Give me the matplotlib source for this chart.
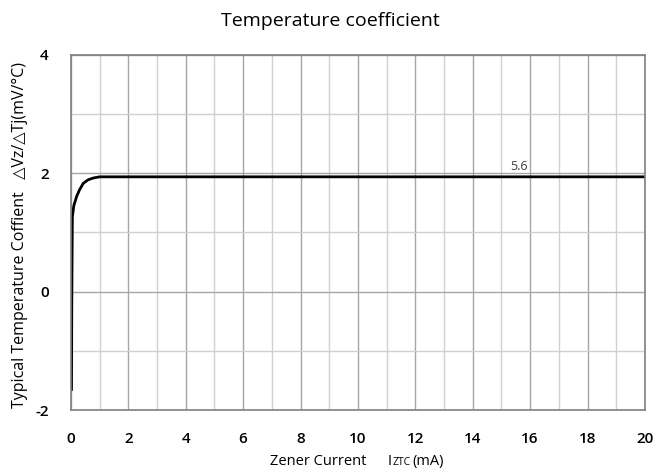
import matplotlib
matplotlib.use("Agg")
import matplotlib.pyplot as plt
from matplotlib.ticker import MultipleLocator

# Zener current (mA) vs temperature coefficient (mV/°C)
current = [0.02, 0.03, 0.05, 0.1, 0.2, 0.3, 0.43, 0.6, 0.78, 1.0, 2.0, 5.0, 10.0, 15.0, 20.0]
coeff = [-1.65, -0.2, 1.26, 1.45, 1.61, 1.72, 1.83, 1.89, 1.92, 1.94, 1.94, 1.94, 1.94, 1.94, 1.94]
label_text = "5.6"
label_pos = (15.6, 2.0)

plt.rcParams["font.family"] = ["Open Sans", "DejaVu Sans"]
plt.rcParams["axes.unicode_minus"] = False

fig = plt.figure(figsize=(6.69, 4.73), dpi=100)
ax = fig.add_axes([0.106, 0.133, 0.858, 0.751])

ax.plot(current, coeff, color="black", linewidth=2)
ax.text(label_pos[0], label_pos[1], label_text, fontsize=9, color="#404040",
        ha="center", va="bottom")

ax.set_xlim(0, 20)
ax.set_ylim(-2, 4)
ax.xaxis.set_major_locator(MultipleLocator(2))
ax.xaxis.set_minor_locator(MultipleLocator(1))
ax.yaxis.set_major_locator(MultipleLocator(2))
ax.yaxis.set_minor_locator(MultipleLocator(1))
ax.grid(which="major", color="#a6a6a6", linewidth=1)
ax.grid(which="minor", color="#d0d0d0", linewidth=1)
ax.set_axisbelow(True)
ax.tick_params(which="both", length=0, labelsize=11)
ax.tick_params(axis="x", pad=16)
ax.tick_params(axis="y", pad=16)
for lbl in ax.get_xticklabels() + ax.get_yticklabels():
    lbl.set_fontweight("semibold")
for s in ax.spines.values():
    s.set_color("#808080")
    s.set_linewidth(1.2)

fig.text(0.494, 0.955, "Temperature coefficient", ha="center", va="center", fontsize=14)

# x label: "Zener Current   I" + small "ZTC" + "(mA)"
fig.text(0.403, 0.008, "Zener Current", ha="left", va="bottom", fontsize=10.5)
fig.text(0.579, 0.008, "I", ha="left", va="bottom", fontsize=10.5)
fig.text(0.587, 0.010, "ZTC", ha="left", va="bottom", fontsize=7.5)
fig.text(0.616, 0.008, "(mA)", ha="left", va="bottom", fontsize=10.5)

fig.text(0.030, 0.503, "Typical Temperature Coffient   \u25b3Vz/\u25b3Tj(mV/\u00b0C)",
         rotation=90, ha="center", va="center", fontsize=11.5)

fig.savefig("out.png", dpi=100)
